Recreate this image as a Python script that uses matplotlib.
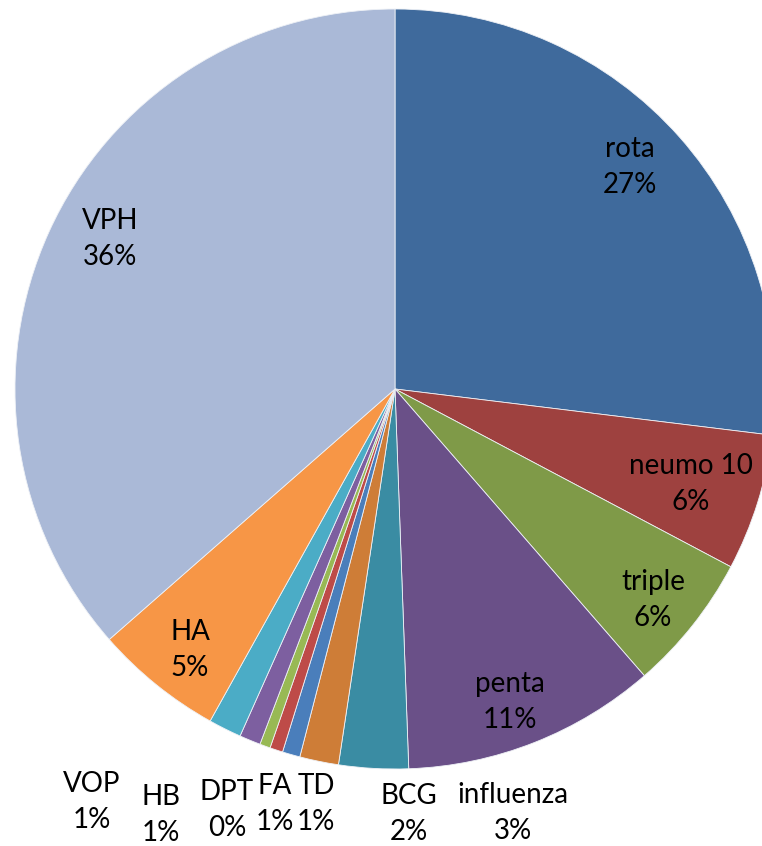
import matplotlib
matplotlib.use("Agg")
import matplotlib.pyplot as plt

# ---- data ----
categories = ["rota", "neumo 10", "triple", "penta", "influenza", "BCG", "TD",
              "FA", "DPT", "HB", "VOP", "HA", "VPH"]
values = [26.9, 5.8, 5.85, 10.8, 2.95, 1.65, 0.75, 0.55, 0.45, 0.9, 1.4, 5.45, 36.4]
colors = ["#3F6A9C", "#9E413F", "#7F9A48", "#6A5088", "#3A8CA3", "#CE7D37",
          "#4A7EBB", "#BE4B48", "#98B954", "#7D5FA0", "#4BACC6", "#F79646",
          "#AAB9D7"]

# ---- layout (pixel positions of label block centres, top-left origin) ----
W, H = 762, 846
center_px = (395, 389)
radius_px = 380
label_pos_px = {
    "rota": (630, 167), "neumo 10": (691, 484), "triple": (653, 600),
    "penta": (510, 702), "influenza": (513, 813), "BCG": (409, 814),
    "TD": (316, 804), "FA": (275, 804), "DPT": (227, 810), "HB": (161, 815),
    "VOP": (92, 802), "HA": (190, 650), "VPH": (110, 239),
}

fig = plt.figure(figsize=(W / 100, H / 100), dpi=100)
ax = fig.add_axes([0, 0, 1, 1])

ax.pie(values, colors=colors, startangle=90, counterclock=False,
       center=(center_px[0], H - center_px[1]), radius=radius_px,
       wedgeprops=dict(linewidth=0.6, edgecolor="#eef1f6"), frame=True)
ax.set_xlim(0, W)
ax.set_ylim(0, H)
ax.set_aspect("equal")
ax.axis("off")

total = sum(values)
for name, v in zip(categories, values):
    pct = int(round(100 * v / total))
    x, y = label_pos_px[name]
    ax.text(x, H - y, f"{name}\n{pct}%", ha="center", va="center",
            fontsize=20, family=["Lato", "DejaVu Sans"], color="black",
            linespacing=1.5)

fig.savefig("out.png", dpi=100)
